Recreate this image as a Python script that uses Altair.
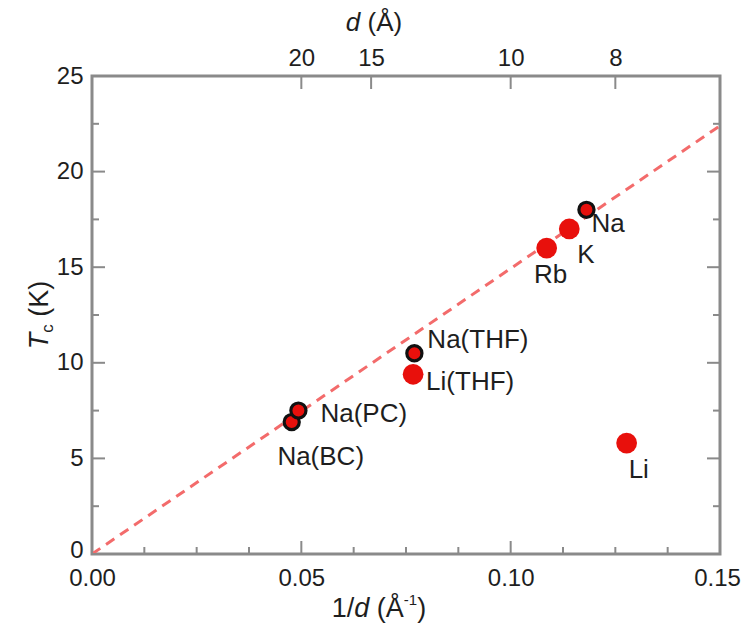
import altair as alt
import pandas as pd

# ---------------- data ----------------
names = ["Na(BC)", "Na(PC)", "Li(THF)", "Na(THF)", "Rb", "K", "Na", "Li"]
inv_d = [0.0477, 0.0493, 0.0767, 0.0770, 0.1086, 0.1140, 0.1181, 0.1277]
tc = [6.9, 7.5, 9.4, 10.5, 16.0, 17.0, 18.0, 5.8]
rim = [True, True, False, True, False, False, True, False]

fit_x = [0.0, 0.15]
fit_tc = [0.0, 22.4]

x_major = [0.0, 0.05, 0.10, 0.15]
x_minor = [0.0125, 0.025, 0.0375, 0.0625, 0.075, 0.0875, 0.1125, 0.125, 0.1375]
y_major = [0, 5, 10, 15, 20, 25]
y_minor = [2.5, 7.5, 12.5, 17.5, 22.5]
d_ticks = [20, 15, 10, 8]

# ---------------- style ----------------
W, H = 628, 478
FONT = "Liberation Sans"
TXT = "#1e1e1e"
GRAY = "#8a8a8a"
RED = "#e8100c"
LAB = 24
TITLE = 27
PLAB = 26

pts = pd.DataFrame({"name": names, "x": inv_d, "t": tc, "rim": rim})
fit = pd.DataFrame({"x": fit_x, "t": fit_tc})

xs = alt.Scale(domain=[0, 0.15], nice=False, zero=False)
ys = alt.Scale(domain=[0, 25], nice=False, zero=False)

axis_common = dict(ticks=False, domain=False, grid=False, labelFontSize=LAB,
                   labelFont=FONT, labelColor=TXT, labelFlush=False, title=None)

# dashed fit line, carries the top d axis
line = alt.Chart(fit).mark_line(color="#f36b6b", strokeWidth=3, strokeDash=[10, 7]).encode(
    x=alt.X("x:Q", scale=xs, axis=alt.Axis(orient="top", values=[1 / d for d in d_ticks],
                                            labelExpr="round(1/datum.value)", labelPadding=6,
                                            **axis_common)),
    y=alt.Y("t:Q", scale=ys, axis=None),
)

def hticks(vals, y0, y1):
    return alt.Chart(pd.DataFrame({"x": vals})).mark_rule(color=GRAY, strokeWidth=2).encode(
        x=alt.X("x:Q", scale=xs, axis=None), y=alt.value(y0), y2=alt.value(y1))

def vticks(vals, x0, x1):
    return alt.Chart(pd.DataFrame({"t": vals})).mark_rule(color=GRAY, strokeWidth=2).encode(
        y=alt.Y("t:Q", scale=ys, axis=None), x=alt.value(x0), x2=alt.value(x1))

ticks = [
    hticks(x_major, H, H - 13), hticks(x_minor, H, H - 7),
    hticks([1 / d for d in d_ticks], 0, 13),
    vticks(y_major, 0, 13), vticks(y_minor, 0, 7),
    vticks(y_major, W - 13, W), vticks(y_minor, W - 7, W),
]

red_pts = alt.Chart(pts).transform_filter("!datum.rim").mark_circle(
    color=RED, opacity=1, size=430).encode(
    x=alt.X("x:Q", scale=xs, axis=alt.Axis(
        values=x_major, format=".2f", labelPadding=12,
        labelOffset={"condition": {"test": "datum.value > 0.14", "value": -3}, "value": 0},
        **axis_common)),
    y=alt.Y("t:Q", scale=ys, axis=alt.Axis(
        values=y_major, format="d", labelPadding=9,
        labelOffset={"condition": {"test": "datum.value < 1", "value": -4}, "value": 0},
        **axis_common)),
)
rim_pts = alt.Chart(pts).transform_filter("datum.rim").mark_point(
    shape="circle", filled=True, fill=RED, stroke="#111111", strokeWidth=3.2, opacity=1, size=230).encode(
    x=alt.X("x:Q", scale=xs, axis=None),
    y=alt.Y("t:Q", scale=ys, axis=None),
)

label_style = {
    "Na": ("left", 5, 14),
    "K": ("left", 8, 26),
    "Rb": ("center", 4, 27),
    "Na(THF)": ("left", 13, -13),
    "Li(THF)": ("left", 13, 8),
    "Na(PC)": ("left", 22, 3),
    "Na(BC)": ("center", 29, 35),
    "Li": ("left", 2, 27),
}
labels = []
for nm, (al, dx, dy) in label_style.items():
    labels.append(
        alt.Chart(pts).transform_filter(alt.datum.name == nm).mark_text(
            align=al, baseline="middle", dx=dx, dy=dy, font=FONT, fontSize=PLAB, color=TXT).encode(
            x=alt.X("x:Q", scale=xs, axis=None), y=alt.Y("t:Q", scale=ys, axis=None), text="name:N")
    )

# ---------------- rich axis titles ----------------
CW = {'1': .556, '/': .278, 'd': .556, ' ': .278, '(': .333, 'Å': .667, '-': .333,
      ')': .333, 'T': .611, 'c': .5, 'K': .667}

def wid(s, size):
    return sum(CW[ch] for ch in s) * size

one = alt.Data(values=[{"k": 1}])

def rich(pieces, cx, cy, vertical=False):
    total = sum(wid(t, s) for t, s, _, _ in pieces)
    out = []
    pos = -total / 2
    for t, s, it, shift in pieces:
        txt = t.strip()
        lead = wid(t[: len(t) - len(t.lstrip())], s)
        if txt:
            style = dict(text=txt, align="left", baseline="alphabetic", font=FONT, fontSize=s,
                         fontStyle="italic" if it else "normal", color=TXT)
            if vertical:
                px, py = cx + shift, cy - pos - lead
                mk = alt.Chart(one).mark_text(angle=270, **style)
            else:
                px, py = cx + pos + lead, cy + shift
                mk = alt.Chart(one).mark_text(**style)
            out.append(mk.encode(x=alt.value(px), y=alt.value(py)))
        pos += wid(t, s)
    return out

titles = []
titles += rich([("1/", TITLE, False, 0), ("d", TITLE, True, 0), (" (Å", TITLE, False, 0),
                ("-1", 15, False, -12), (")", TITLE, False, 0)], 287, 541)
titles += rich([("d", 26, True, 0), (" (Å)", 26, False, 0)], 282, -45)
titles += rich([("T", TITLE, True, 0), ("c", 17, False, 5), (" (K)", TITLE, False, 0)],
               -44, H / 2, vertical=True)

chart = alt.layer(line, *ticks, red_pts, rim_pts, *labels, *titles).resolve_axis(
    x="independent", y="independent").properties(
    width=W, height=H,
    autosize=alt.AutoSizeParams(type="none"),
    padding={"left": 84, "top": 68, "right": 22, "bottom": 73},
).configure_view(stroke=GRAY, strokeWidth=3)

chart.save("out.html", embed_options={"renderer": "svg", "actions": False})
